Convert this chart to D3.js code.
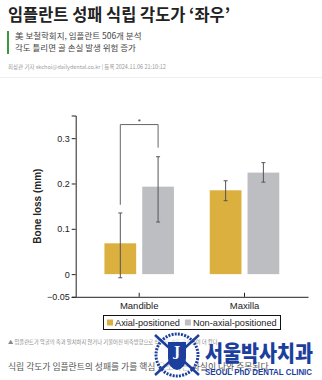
<!DOCTYPE html>
<html>
<head>
<meta charset="utf-8">
<script src="https://cdn.jsdelivr.net/npm/d3@7"></script>
<style>
  body { margin: 0; background: #fff; }
  svg { display: block; }
  .kr { font-family: "Noto Sans CJK KR", "Noto Sans", sans-serif; }
  .chart text { font-family: "Liberation Sans", Arial, sans-serif; }
</style>
</head>
<body>
<svg id="fig" width="322" height="380"></svg>
<script>
// data
const groups = ['Mandible', 'Maxilla']
const series = ['Axial-positioned', 'Non-axial-positioned']
const means = [[0.068, 0.193], [0.185, 0.224]]   // [group][series]
const errLow = [[-0.008, 0.115], [0.162, 0.203]]
const errHigh = [[0.135, 0.259], [0.206, 0.246]]
const yTicks = [-0.05, 0, 0.1, 0.2, 0.3]
const yTickLabels = ['\u22120.05', '0', '0.1', '0.2', '0.3']
const sigBracket = { top: 0.33, leftEnd: 0.153, rightEnd: 0.279, label: '*' }
const colors = ['#dcb03f', '#bcbec1']

const svg = d3.select('#fig')

// ---- article header ----
svg.append('text').attr('class', 'kr')
  .attr('x', 8).attr('y', 21)
  .attr('font-size', 17).attr('font-weight', 700).attr('fill', '#222')
  .attr('textLength', 222).attr('lengthAdjust', 'spacingAndGlyphs')
  .text('임플란트 성패 식립 각도가 ‘좌우’')

svg.append('rect').attr('x', 7).attr('y', 31).attr('width', 2).attr('height', 23).attr('fill', '#3c9a3c')

const subLines = ['美 보철학회지, 임플란트 506개 분석', '각도 틀리면 골 손실 발생 위험 증가']
svg.selectAll('text.sub').data(subLines).enter().append('text')
  .attr('class', 'kr sub')
  .attr('x', 15).attr('y', (d, i) => 39 + i * 12)
  .attr('font-size', 8.5).attr('fill', '#444')
  .text(d => d)

svg.append('text').attr('class', 'kr')
  .attr('x', 8).attr('y', 69).attr('font-size', 5.5).attr('fill', '#999')
  .text('최상관 기자 skchoi@dailydental.co.kr  |  등록 2024.11.06 21:10:12')

svg.append('line').attr('x1', 0).attr('x2', 322).attr('y1', 77.5).attr('y2', 77.5)
  .attr('stroke', '#eee')

// ---- chart ----
const chart = svg.append('g').attr('class', 'chart')

const y = d3.scaleLinear().domain([-0.05, 0.35]).range([296.8, 115.5])
const x0 = d3.scaleBand().domain(groups).range([75.7, 308])
  .paddingInner(0.34).paddingOuter(0.273)
const x1 = d3.scaleBand().domain(series).range([0, x0.bandwidth()]).paddingInner(0.16)

const yAxis = chart.append('g')
  .attr('transform', `translate(${x0.range()[0]},0)`)
  .call(d3.axisLeft(y).tickValues(yTicks).tickSize(4).tickPadding(2)
    .tickFormat((d, i) => yTickLabels[i]))
yAxis.selectAll('text').attr('font-size', 9).attr('fill', '#222')
yAxis.selectAll('path, line').attr('stroke', '#222')

const xAxis = chart.append('g')
  .attr('transform', `translate(0,${y(-0.05)})`)
  .call(d3.axisBottom(x0).tickSize(-4).tickPadding(4).tickSizeOuter(0))
xAxis.selectAll('text').attr('font-size', 9.5).attr('fill', '#222').attr('dy', '0.9em')
xAxis.selectAll('path, line').attr('stroke', '#222')

chart.append('text')
  .attr('transform', `translate(41,${y(0.15)}) rotate(-90)`)
  .attr('text-anchor', 'middle').attr('font-size', 10).attr('font-weight', 700)
  .attr('fill', '#222')
  .text('Bone loss (mm)')

const gBars = chart.selectAll('g.grp').data(groups).enter().append('g')
  .attr('class', 'grp')
  .attr('transform', d => `translate(${x0(d)},0)`)

gBars.each(function (g, gi) {
  const sel = d3.select(this)
  series.forEach((s, si) => {
    const cx = x1(s) + x1.bandwidth() / 2
    sel.append('rect')
      .attr('x', x1(s)).attr('width', x1.bandwidth())
      .attr('y', y(means[gi][si])).attr('height', y(0) - y(means[gi][si]))
      .attr('fill', colors[si])
    sel.append('line')
      .attr('x1', cx).attr('x2', cx)
      .attr('y1', y(errLow[gi][si])).attr('y2', y(errHigh[gi][si]))
      .attr('stroke', '#555').attr('stroke-width', 1)
    ;[errLow[gi][si], errHigh[gi][si]].forEach(v => {
      sel.append('line')
        .attr('x1', cx - 2).attr('x2', cx + 2)
        .attr('y1', y(v)).attr('y2', y(v))
        .attr('stroke', '#555').attr('stroke-width', 1)
    })
  })
})

// significance bracket over mandible
const bl = x0(groups[0]) + x1(series[0]) + x1.bandwidth() / 2
const br = x0(groups[0]) + x1(series[1]) + x1.bandwidth() / 2
chart.append('path')
  .attr('d', `M${bl},${y(sigBracket.leftEnd)}V${y(sigBracket.top)}H${br}V${y(sigBracket.rightEnd)}`)
  .attr('fill', 'none').attr('stroke', '#666').attr('stroke-width', 1)
chart.append('text')
  .attr('x', (bl + br) / 2).attr('y', y(sigBracket.top) - 1)
  .attr('text-anchor', 'middle').attr('font-size', 8).attr('fill', '#333')
  .text(sigBracket.label)

// legend
const leg = chart.append('g')
leg.append('rect').attr('x', 103.5).attr('y', 315.5).attr('width', 177).attr('height', 14)
  .attr('fill', '#fff').attr('stroke', '#111').attr('stroke-width', 1)
let lx = 107
series.forEach((s, i) => {
  leg.append('rect').attr('x', lx).attr('y', 319.5).attr('width', 6).attr('height', 6).attr('fill', colors[i])
  const t = leg.append('text').attr('x', lx + 8).attr('y', 326).attr('font-size', 9.2)
    .attr('fill', '#222').text(s)
  lx += 8 + t.node().getComputedTextLength() + 5
})

// ---- caption & body ----
svg.append('text').attr('class', 'kr')
  .attr('x', 8).attr('y', 344).attr('font-size', 5.3).attr('fill', '#888')
  .text('▲ 임플란트가 악골의 축과 일치하지 않거나 기울어진 비축방향으로 식립된 경우 골손실이 더 컸다')

svg.append('text').attr('class', 'kr')
  .attr('x', 8).attr('y', 370).attr('font-size', 8.8).attr('fill', '#555')
  .text('식립 각도가 임플란트의 성패를 가를 핵심 요소라는 사실이 나와 주목된다.')

// ---- watermark logo ----
const blue = '#1c3f9e'
const logo = svg.append('g')
const lc = [177, 355]
logo.append('circle').attr('cx', lc[0]).attr('cy', lc[1]).attr('r', 21)
  .attr('fill', '#fff').attr('fill-opacity', 0.6).attr('stroke', blue).attr('stroke-width', 3)
  .attr('stroke-dasharray', '2 1.2')
logo.append('line').attr('x1', lc[0] - 22).attr('y1', lc[1] - 20).attr('x2', lc[0] + 22).attr('y2', lc[1] + 20)
  .attr('stroke', blue).attr('stroke-width', 2.5)
logo.append('line').attr('x1', lc[0] + 22).attr('y1', lc[1] - 20).attr('x2', lc[0] - 22).attr('y2', lc[1] + 20)
  .attr('stroke', blue).attr('stroke-width', 2.5)
logo.append('path')
  .attr('d', `M${lc[0] - 9},${lc[1] - 13}H${lc[0] + 9}V${lc[1] + 3}Q${lc[0] + 9},${lc[1] + 13} ${lc[0]},${lc[1] + 15}Q${lc[0] - 9},${lc[1] + 13} ${lc[0] - 9},${lc[1] + 3}Z`)
  .attr('fill', blue)
logo.append('text').attr('x', lc[0]).attr('y', lc[1] + 1).attr('text-anchor', 'middle')
  .attr('font-size', 13).attr('font-weight', 700).attr('fill', '#fff')
  .attr('font-family', 'DejaVu Serif, serif').text('J')
logo.append('text').attr('class', 'kr')
  .attr('x', 205).attr('y', 361).attr('font-size', 22).attr('font-weight', 900).attr('fill', blue)
  .attr('textLength', 108).attr('lengthAdjust', 'spacingAndGlyphs')
  .text('서울박사치과')
logo.append('text')
  .attr('x', 205).attr('y', 375).attr('font-size', 8.5).attr('font-weight', 700).attr('fill', blue)
  .attr('font-family', 'Liberation Sans, Arial, sans-serif')
  .attr('textLength', 107).attr('lengthAdjust', 'spacingAndGlyphs')
  .text('SEOUL PhD DENTAL CLINIC')
</script>
</body>
</html>
